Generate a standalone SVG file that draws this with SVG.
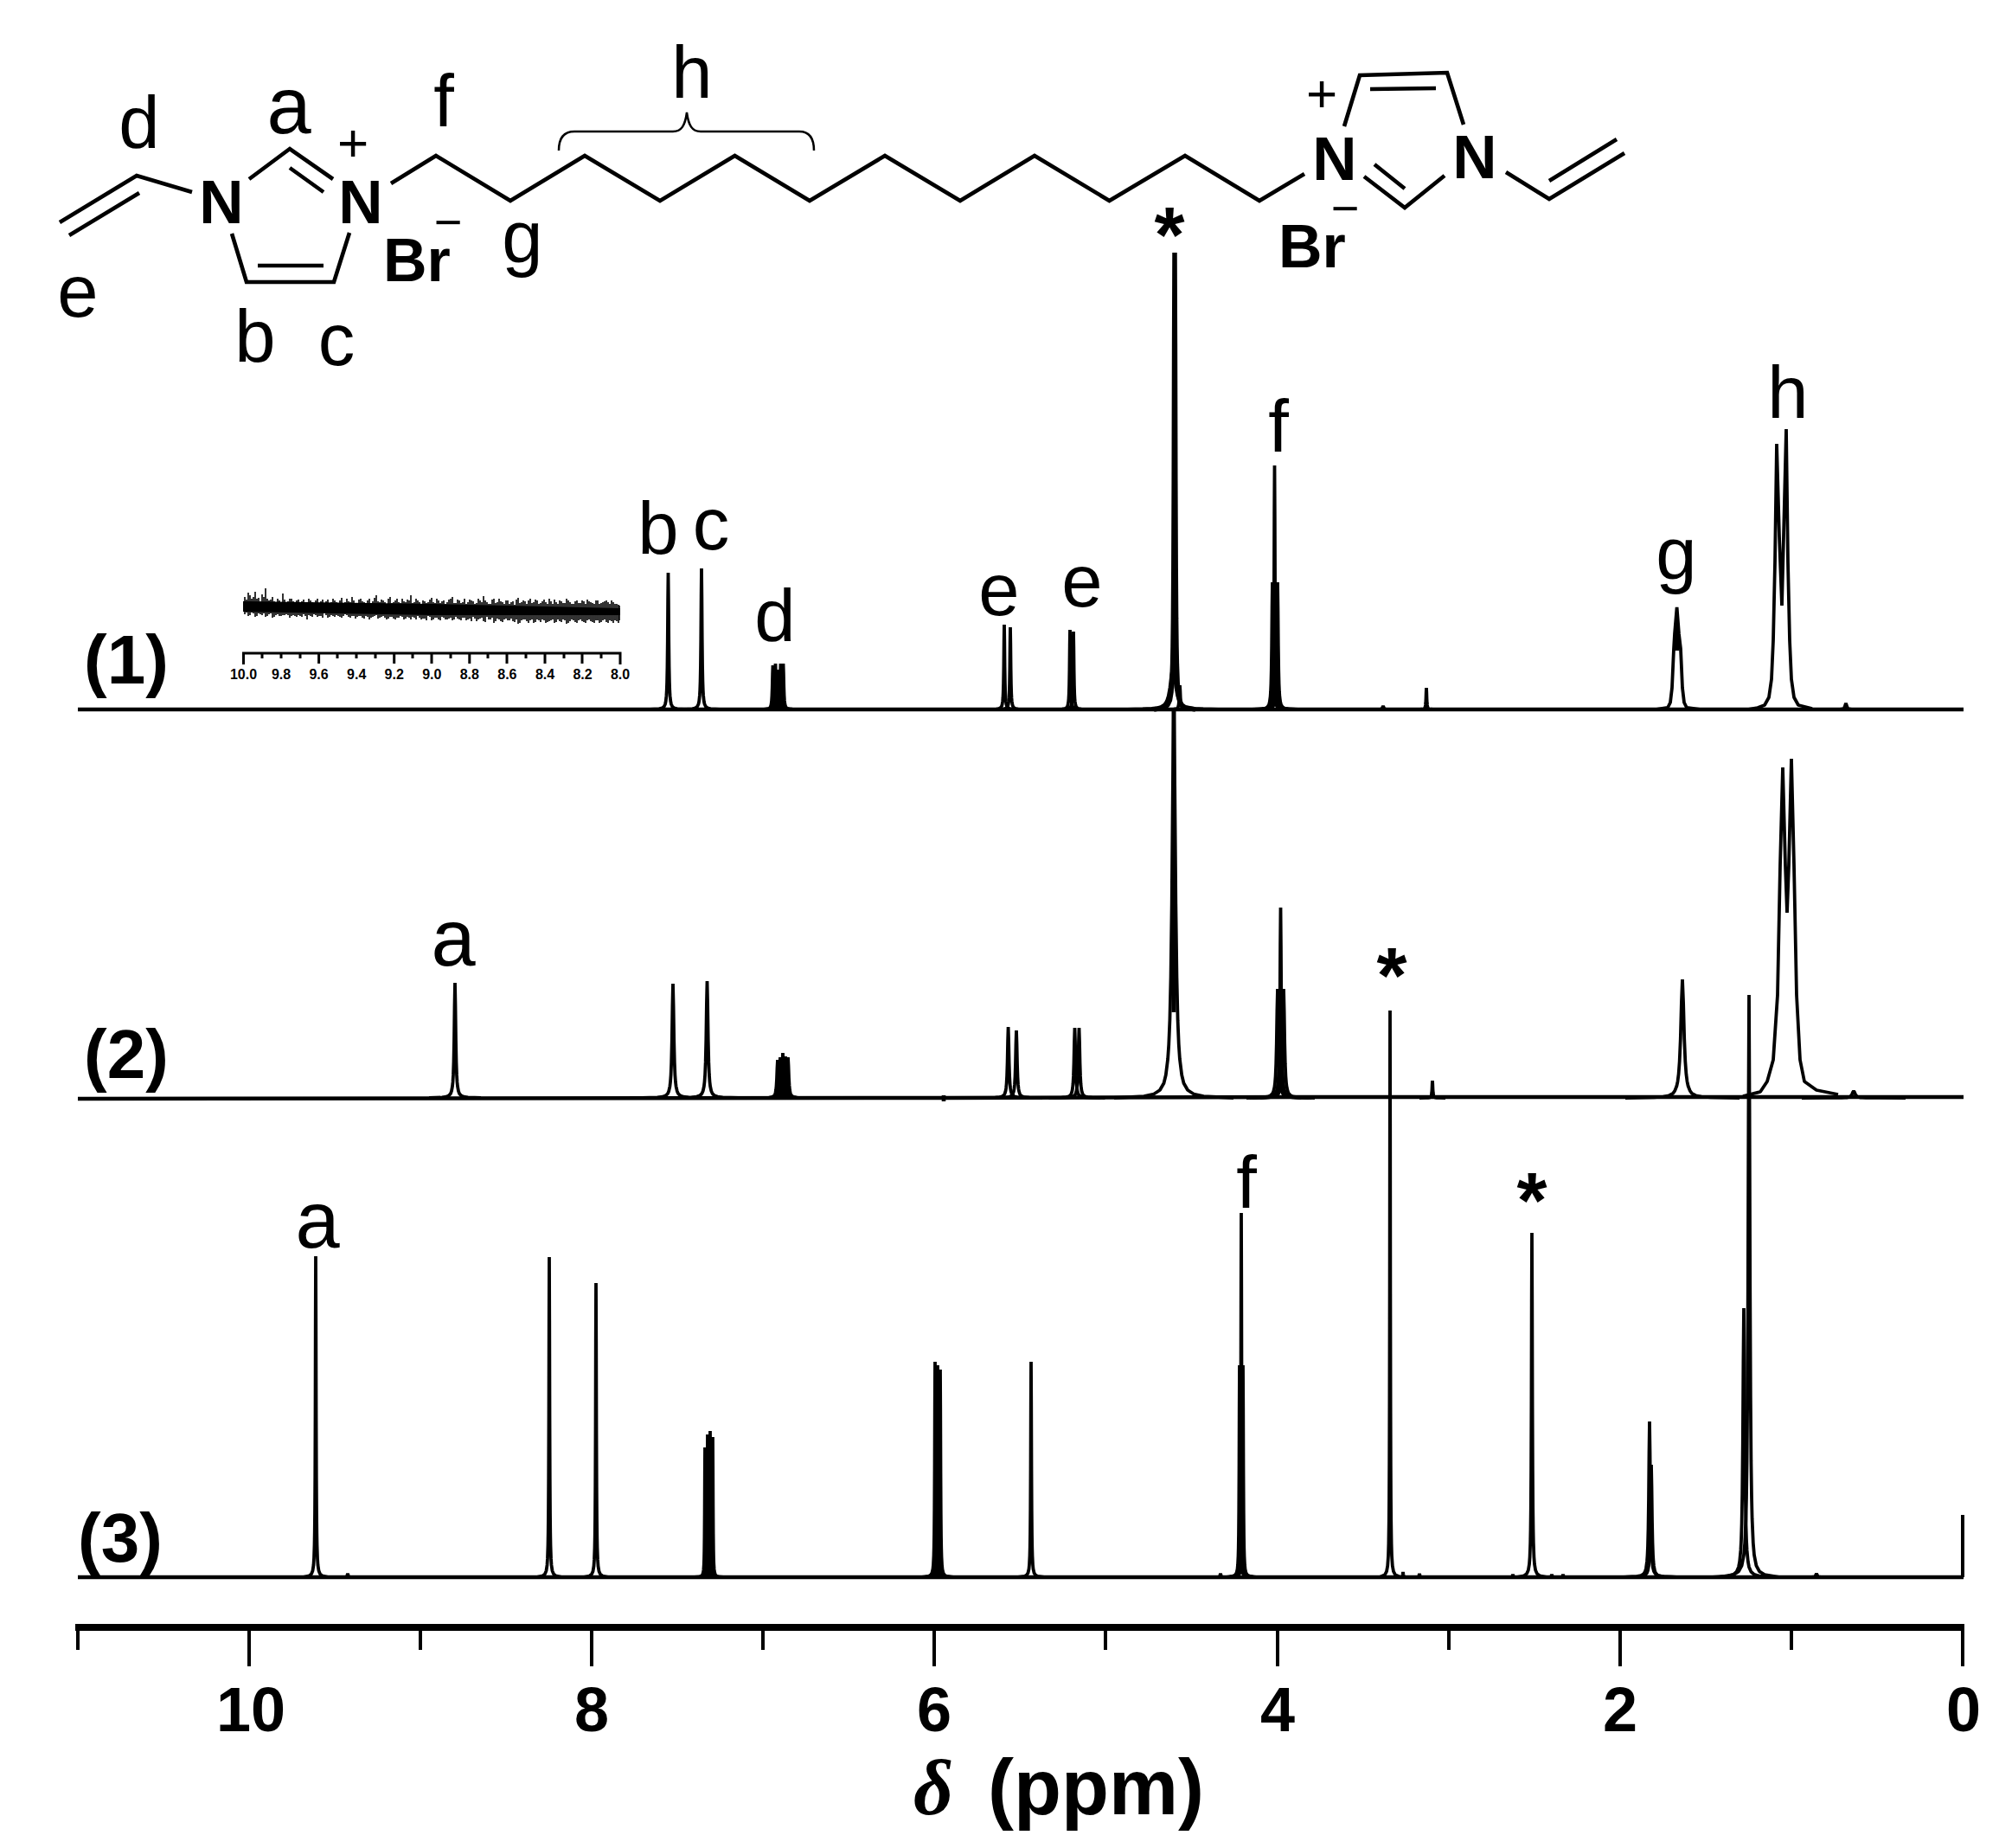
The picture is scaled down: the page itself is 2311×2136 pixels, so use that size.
<svg xmlns="http://www.w3.org/2000/svg" width="2311" height="2136" viewBox="0 0 2311 2136">
<style>
text{font-family:"Liberation Sans",Arial,sans-serif;fill:#000}
.l{font-size:85px;text-anchor:middle}
.a{font-size:92px;text-anchor:middle}
.N{font-size:71px;font-weight:bold;text-anchor:middle}
.Br{font-size:70px;font-weight:bold}
.p{font-size:62px;text-anchor:middle}
.m{font-size:56px;text-anchor:middle}
.s{font-size:90px;font-weight:bold;text-anchor:middle}
.n{font-size:80px;font-weight:bold}
.t{font-size:72px;font-weight:bold;text-anchor:middle}
.i{font-size:16px;font-weight:bold;text-anchor:middle}
.b{fill:none;stroke:#000;stroke-width:4.6;stroke-linecap:butt;stroke-linejoin:miter}
.k{fill:none;stroke:#000;stroke-width:4}
.sp path,.sp use{fill:none;stroke:#000;stroke-width:3.8;stroke-linejoin:bevel}
#pk{vector-effect:non-scaling-stroke}
</style>
<defs>
<path id="pk" d="M-30 0L-15 -.0044L-10 -.01L-7 -.02L-5 -.038L-4 -.059L-3 -.1L-2.5 -.138L-2 -.2L-1.5 -.31L-1 -.5L-.5 -.8L0 -1L.5 -.8L1 -.5L1.5 -.31L2 -.2L2.5 -.138L3 -.1L4 -.059L5 -.038L7 -.02L10 -.01L15 -.0044L30 0"/>
</defs>
<rect width="2311" height="2136" fill="#fff"/>

<g id="structure">
<path class="b" d="M69 257L158 203L222 222M80 272L161 223"/>
<path class="b" d="M268 270L285 326H386L404 269M298 307H374"/>
<path class="b" d="M288 207L335 172L385 207M335 194L374 222"/>
<path class="b" d="M452 212L504 180L590 232L676 180L763 232L849.5 180L936 232L1023 180L1110 232L1196 180L1282.5 232L1370 180L1456 232L1508 201"/>
<path class="b" d="M1554 146L1572 87L1673 84L1692 144M1584 103L1660 102"/>
<path class="b" d="M1577 204L1624 240L1670 203M1589 190L1624 218"/>
<path class="b" d="M1741 199L1791 230L1878 177M1791 209L1869 161"/>
<path fill="none" stroke="#000" stroke-width="2.5" d="M646 174C646 160 652 152 664 152H778C788 152 792 145 794 130C796 145 800 152 810 152H924C936 152 941 160 941 174"/>
<text class="N" x="256" y="258">N</text>
<text class="N" x="417" y="258">N</text>
<text class="N" x="1543" y="208">N</text>
<text class="N" x="1705" y="206">N</text>
<text class="p" x="408" y="186">+</text>
<text class="p" x="1528" y="129">+</text>
<text class="Br" x="443" y="325">Br</text>
<text class="Br" x="1478" y="309">Br</text>
<text class="m" x="518" y="276">−</text>
<text class="m" x="1555" y="260">−</text>
<text class="l" x="161" y="171">d</text>
<text class="a" x="334" y="154">a</text>
<text class="l" x="513" y="146">f</text>
<text class="l" x="800" y="113">h</text>
<text class="l" x="604" y="303">g</text>
<text class="l" x="90" y="366">e</text>
<text class="l" x="295" y="418">b</text>
<text class="l" x="389" y="422">c</text>
</g>

<g id="spectrum-1" class="sp">
<path style="stroke-width:4.4" d="M90 820H2270"/>
<use href="#pk" transform="translate(772.5 820) scale(.7 158)"/>
<use href="#pk" transform="translate(811 820) scale(.7 163)"/>
<use href="#pk" transform="translate(893.5 820) scale(.7 51)"/>
<use href="#pk" transform="translate(896.5 820) scale(.7 53)"/>
<use href="#pk" transform="translate(899.5 820) scale(.5 46)"/>
<use href="#pk" transform="translate(902.5 820) scale(.7 53)"/>
<use href="#pk" transform="translate(905.5 820) scale(.7 53)"/>
<use href="#pk" transform="translate(1161 820) scale(.6 98)"/>
<use href="#pk" transform="translate(1168 820) scale(.6 95)"/>
<use href="#pk" transform="translate(1237 820) scale(.6 92)"/>
<use href="#pk" transform="translate(1241 820) scale(.6 90)"/>
<use href="#pk" transform="translate(1358 820) scale(.8 528)" style="stroke-width:5.5"/>
<use href="#pk" transform="translate(1356 820) scale(3.5 50)"/>
<use href="#pk" transform="translate(1364 820) scale(.7 28)"/>
<use href="#pk" transform="translate(1473.5 820) scale(.6 282)"/>
<use href="#pk" transform="translate(1471 820) scale(.8 147)"/>
<use href="#pk" transform="translate(1474 820) scale(.8 147)"/>
<use href="#pk" transform="translate(1477 820) scale(.8 147)"/>
<use href="#pk" transform="translate(1599 820) scale(.8 4)"/>
<use href="#pk" transform="translate(1649 820) scale(.5 25)"/>
<path d="M1915 820L1928 818L1931 812L1933 795L1935 750L1936 733L1938.6 702L1941 733L1943 750L1945 795L1947 812L1950 818L1965 820"/>
<path style="stroke-width:6" d="M1938.6 725V752"/>
<path d="M2020 820L2032 818L2040 815L2045 806L2048 785L2050 740L2052 650L2054 513L2057 620L2060 700L2062 620L2065 496L2067 650L2069 740L2071 785L2074 806L2079 815L2095 819"/>
<use href="#pk" transform="translate(2134 820) scale(1.2 7)"/>
<text class="n" x="97" y="790">(1)</text>
<text class="s" x="1352" y="303">*</text>
<text class="l" x="761" y="640">b</text>
<text class="l" x="822" y="635">c</text>
<text class="l" x="896" y="741">d</text>
<text class="l" x="1155" y="711">e</text>
<text class="l" x="1251" y="701">e</text>
<text class="l" x="1478" y="522">f</text>
<text class="l" x="1938" y="669">g</text>
<text class="l" x="2067" y="483">h</text>
</g>

<g id="inset">
<path d="M281 695L500 698L717 703V711L500 711L281 707Z"/>
<path fill="none" stroke="#000" stroke-width="1.6" d="M283 690V710M287 685V712M291 692V708M295 684V713M299 691V709M303 687V711M307 680V713M311 694V710M315 690V714M319 696V711M323 694V712M327 686V711M331 697V710M335 692V714M339 695V711M343 694V713M347 697V712M351 693V710M355 696V716M359 694V712M363 698V710M367 692V713M371 695V712M375 697V709M379 693V714M383 696V711M387 694V713M391 698V712M395 691V714M399 696V710M403 695V713M407 690V712M411 697V715M415 693V712M419 695V714M423 697V712M427 692V716M431 695V713M435 688V711M439 696V714M443 694V712M447 698V716M451 690V713M455 696V715M459 692V714M463 697V712M467 695V716M471 693V713M475 688V716M479 696V714M483 694V712M487 698V716M491 695V715M495 696V712M499 691V717M503 697V714M507 694V716M511 695V713M515 698V716M519 693V715M523 690V717M527 697V713M531 694V716M535 696V714M539 698V717M543 693V715M547 695V713M551 697V718M555 694V715M559 689V718M563 696V713M567 698V716M571 692V720M575 696V715M579 695V718M583 698V716M587 694V717M591 696V715M595 699V719M599 691V721M603 696V717M607 695V716M611 694V720M615 697V716M619 693V719M623 698V717M627 695V716M631 696V720M635 692V718M639 698V716M643 696V719M647 694V718M651 697V716M655 692V721M659 696V718M663 698V717M667 694V720M671 697V716M675 695V719M679 693V717M683 696V718M687 698V720M691 694V717M695 697V719M699 695V716M703 696V720M707 694V718M711 698V717M715 699V720"/>
<path fill="none" stroke="#000" stroke-width="1.6" d="M285 693V708M289 688V711M293 690V709M297 692V712M301 695V710M305 690V709M309 692V712M313 693V709M317 695V713M321 692V710M325 696V712M329 693V711M333 695V711M337 692V712M341 696V712M345 693V711M349 695V713M353 697V712M357 692V711M361 696V713M365 694V711M369 697V712M373 693V714M377 695V711M381 697V713M385 692V712M389 696V711M393 694V713M397 697V712M401 692V711M405 696V714M409 694V712M413 697V713M417 692V712M421 696V715M425 694V713M429 697V714M433 691V712M437 695V715M441 693V713M445 696V714M449 692V715M453 697V713M457 694V716M461 696V714M465 692V713M469 696V715M473 694V714M477 697V713M481 692V716M485 696V714M489 694V715M493 697V717M497 693V713M501 696V716M505 692V714M509 697V717M513 694V714M517 696V716M521 692V714M525 697V716M529 693V715M533 697V717M537 692V714M541 696V716M545 694V718M549 698V715M553 692V716M557 696V714M561 694V719M565 698V716M569 693V714M573 697V718M577 692V716M581 696V719M585 694V715M589 698V717M593 695V718M597 693V716M601 697V720M605 694V716M609 698V718M613 692V717M617 696V720M621 694V716M625 697V719M629 693V717M633 698V719M637 695V717M641 693V720M645 698V716M649 695V719M653 697V717M657 694V720M661 698V716M665 695V719M669 697V717M673 694V718M677 698V720M681 695V716M685 697V719M689 694V717M693 698V720M697 696V717M701 694V719M705 698V717M709 696V720M713 698V718M716 700V717"/>
<path fill="none" stroke="#000" stroke-width="3" d="M281.5 768V755H717V768M325 755V761M368.6 755V767M412 755V761M455.7 755V767M499 755V767M542.8 755V767M586 755V767M630 755V767M673 755V767"/>
<path fill="none" stroke="#000" stroke-width="3" d="M303 755V761M347 755V761M390 755V761M434 755V761M477 755V761M521 755V761M564 755V761M608 755V761M652 755V761M695 755V761"/>
<text class="i" x="281.5" y="785">10.0</text>
<text class="i" x="325" y="785">9.8</text>
<text class="i" x="368.6" y="785">9.6</text>
<text class="i" x="412.2" y="785">9.4</text>
<text class="i" x="455.7" y="785">9.2</text>
<text class="i" x="499.3" y="785">9.0</text>
<text class="i" x="542.8" y="785">8.8</text>
<text class="i" x="586.4" y="785">8.6</text>
<text class="i" x="630" y="785">8.4</text>
<text class="i" x="673.5" y="785">8.2</text>
<text class="i" x="717" y="785">8.0</text>
</g>

<g id="spectrum-2" class="sp">
<path style="stroke-width:4.6" d="M90 1270L1000 1269L1091 1269V1273V1266V1269L1500 1268L2270 1268"/>
<use href="#pk" transform="translate(526 1269) scale(1 133)"/>
<use href="#pk" transform="translate(778 1269) scale(1.2 132)"/>
<use href="#pk" transform="translate(817.5 1269) scale(1.2 135)"/>
<use href="#pk" transform="translate(899 1269) scale(1 44)"/>
<use href="#pk" transform="translate(902 1269) scale(1 47)"/>
<use href="#pk" transform="translate(905 1269) scale(1 52)"/>
<use href="#pk" transform="translate(908 1269) scale(1 48)"/>
<use href="#pk" transform="translate(911 1269) scale(1 47)"/>
<use href="#pk" transform="translate(1165.6 1269) scale(1 82)"/>
<use href="#pk" transform="translate(1175 1269) scale(1 78)"/>
<use href="#pk" transform="translate(1242.5 1269) scale(1 81)"/>
<use href="#pk" transform="translate(1247.5 1269) scale(1 81)"/>
<use href="#pk" transform="translate(1357 1269) scale(2.3 449)"/>
<path style="stroke-width:5" d="M1357 820V1170"/>
<use href="#pk" transform="translate(1480.5 1269) scale(.8 220)"/>
<use href="#pk" transform="translate(1477 1269) scale(1.2 126)"/>
<use href="#pk" transform="translate(1480.5 1269) scale(1.2 126)"/>
<use href="#pk" transform="translate(1484 1269) scale(1.2 126)"/>
<use href="#pk" transform="translate(1656 1269) scale(.5 20)"/>
<use href="#pk" transform="translate(1945 1269) scale(2.2 137)"/>
<path d="M2015 1267L2035 1262L2043 1250L2050 1225L2055 1150L2058 1000L2061 887L2064 1000L2066 1055L2068 1000L2071 877L2074 1000L2077 1150L2081 1225L2086 1250L2100 1260L2125 1265"/>
<use href="#pk" transform="translate(2143 1269) scale(2 8)"/>
<text class="n" x="97" y="1246">(2)</text>
<text class="a" x="524" y="1116">a</text>
<text class="s" x="1609" y="1159">*</text>
</g>

<g id="spectrum-3" class="sp">
<path style="stroke-width:4.4" d="M90 1823H2270"/>
<use href="#pk" transform="translate(365 1823) scale(.5 371)"/>
<use href="#pk" transform="translate(402 1823) scale(.6 4)"/>
<use href="#pk" transform="translate(635 1823) scale(.5 370)"/>
<use href="#pk" transform="translate(689 1823) scale(.5 340)"/>
<use href="#pk" transform="translate(815 1823) scale(.4 150)"/>
<use href="#pk" transform="translate(818 1823) scale(.4 165)"/>
<use href="#pk" transform="translate(821 1823) scale(.4 169)"/>
<use href="#pk" transform="translate(824 1823) scale(.4 162)"/>
<use href="#pk" transform="translate(1081 1823) scale(.5 249)"/>
<use href="#pk" transform="translate(1084 1823) scale(.5 245)"/>
<use href="#pk" transform="translate(1087 1823) scale(.5 240)"/>
<use href="#pk" transform="translate(1192 1823) scale(.5 249)"/>
<use href="#pk" transform="translate(1411 1823) scale(.6 4)"/>
<use href="#pk" transform="translate(1435 1823) scale(.5 421)"/>
<use href="#pk" transform="translate(1433 1823) scale(.5 245)"/>
<use href="#pk" transform="translate(1437 1823) scale(.5 245)"/>
<use href="#pk" transform="translate(1607 1823) scale(.4 655)"/>
<use href="#pk" transform="translate(1622 1823) scale(.4 6)"/>
<use href="#pk" transform="translate(1641 1823) scale(.5 4)"/>
<use href="#pk" transform="translate(1749 1823) scale(.5 3)"/>
<use href="#pk" transform="translate(1771 1823) scale(.6 398)"/>
<use href="#pk" transform="translate(1794 1823) scale(.5 3)"/>
<use href="#pk" transform="translate(1807 1823) scale(.5 3)"/>
<use href="#pk" transform="translate(1907 1823) scale(1 180)"/>
<use href="#pk" transform="translate(1909 1823) scale(1 130)"/>
<use href="#pk" transform="translate(2016 1823) scale(1.2 311)"/>
<use href="#pk" transform="translate(2022 1823) scale(1.2 673)"/>
<use href="#pk" transform="translate(2100 1823) scale(1 4)"/>
<path style="stroke-width:4" d="M2269 1823V1751"/>
<text class="n" x="90" y="1805">(3)</text>
<text class="a" x="367" y="1442">a</text>
<text class="l" x="1441" y="1396">f</text>
<text class="s" x="1771" y="1419">*</text>
</g>

<g id="axis">
<rect x="87" y="1877" width="2184" height="8"/>
<path class="k" d="M90 1885V1907M288 1885V1926M486 1885V1907M684 1885V1926M882 1885V1907M1080 1885V1926M1278 1885V1907M1477 1885V1926M1675 1885V1907M1873 1885V1926M2071 1885V1907M2269 1885V1926"/>
<text class="t" x="290" y="2001">10</text>
<text class="t" x="684" y="2001">8</text>
<text class="t" x="1080" y="2001">6</text>
<text class="t" x="1477" y="2001">4</text>
<text class="t" x="1873" y="2001">2</text>
<text class="t" x="2270" y="2001">0</text>
<text x="1056" y="2097" style="font-family:'Liberation Serif',serif;font-size:90px;font-weight:bold;font-style:italic">δ</text>
<text x="1142" y="2097" style="font-size:90px;font-weight:bold">(ppm)</text>
</g>
</svg>
